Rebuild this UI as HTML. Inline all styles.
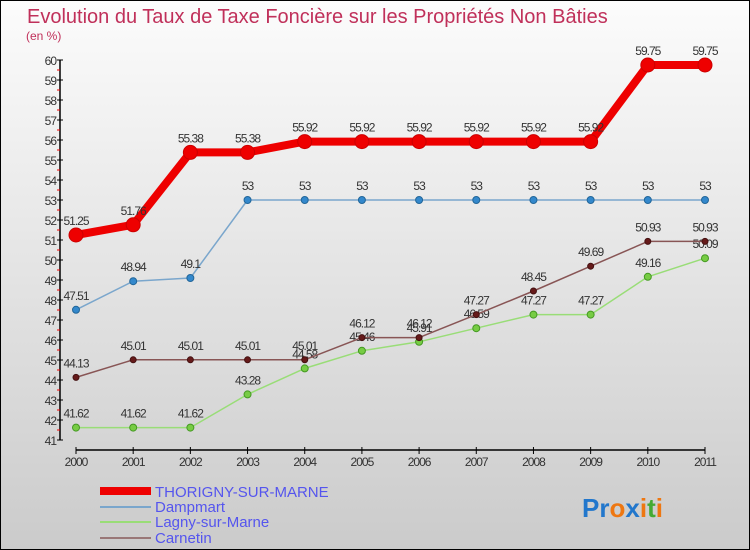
<!DOCTYPE html>
<html><head><meta charset="utf-8"><style>
body{margin:0}
svg{display:block;font-family:"Liberation Sans",sans-serif}
</style></head><body>
<svg id="c" width="750" height="550">
<defs><linearGradient id="bg" x1="0" y1="0" x2="0" y2="1"><stop offset="0" stop-color="#fcfcfc"/><stop offset="1" stop-color="#cbcbcb"/></linearGradient></defs>
<rect x="0.5" y="0.5" width="749" height="549" fill="url(#bg)" stroke="#000"/>
<text x="27" y="23" font-size="20" fill="#c0305a">Evolution du Taux de Taxe Foncière sur les Propriétés Non Bâties</text>
<text x="26" y="40" font-size="12" fill="#c0305a">(en %)</text>
<g id="axes"></g><g id="series"></g>
<g>
<line x1="100" y1="491" x2="151" y2="491" stroke="#e00" stroke-width="8"/>
<text x="155" y="497" font-size="15" fill="#5555ee">THORIGNY-SUR-MARNE</text>
<line x1="100" y1="507" x2="151" y2="507" stroke="#7aa6cc" stroke-width="2"/>
<text x="155" y="512" font-size="15" fill="#5555ee">Dampmart</text>
<line x1="100" y1="522" x2="151" y2="522" stroke="#99dd77" stroke-width="2"/>
<text x="155" y="527" font-size="15" fill="#5555ee">Lagny-sur-Marne</text>
<line x1="100" y1="538" x2="151" y2="538" stroke="#997777" stroke-width="2"/>
<text x="155" y="543" font-size="15" fill="#5555ee">Carnetin</text>
</g>
<text x="582" y="517" font-size="26" font-weight="bold"><tspan fill="#2277cc">Pr</tspan><tspan fill="#ee7711">o</tspan><tspan fill="#2277cc">x</tspan><tspan fill="#ee7711">i</tspan><tspan fill="#44aa33">t</tspan><tspan fill="#ee7711">i</tspan></text>
</svg>
<script>
const years=[2000,2001,2002,2003,2004,2005,2006,2007,2008,2009,2010,2011];
const thorigny=[51.25,51.76,55.38,55.38,55.92,55.92,55.92,55.92,55.92,55.92,59.75,59.75];
const dampmart=[47.51,48.94,49.1,53,53,53,53,53,53,53,53,53];
const lagny=[41.62,41.62,41.62,43.28,44.58,45.46,45.91,46.59,47.27,47.27,49.16,50.09];
const carnetin=[44.13,45.01,45.01,45.01,45.01,46.12,46.12,47.27,48.45,49.69,50.93,50.93];
const yTicks=[41,42,43,44,45,46,47,48,49,50,51,52,53,54,55,56,57,58,59,60];
const NS='http://www.w3.org/2000/svg';
const X=i=>76+i*(705-76)/11, Y=v=>60+(60-v)*20;
function mk(t,a,p){const e=document.createElementNS(NS,t);for(const k in a)e.setAttribute(k,a[k]);p.appendChild(e);return e;}
const ax=document.getElementById('axes');
const yl=mk('line',{x1:60,y1:60,x2:60,y2:440,stroke:'#000','stroke-width':1.5},ax);


yTicks.forEach(v=>{
 mk('line',{x1:57,x2:63,y1:Y(v),y2:Y(v),stroke:'#000'},ax);
 if(v<60)mk('line',{x1:57,x2:60,y1:Y(v+0.5),y2:Y(v+0.5),stroke:'#e00'},ax);
 const t=mk('text',{x:56,y:Y(v)+5,'text-anchor':'end','font-size':12,fill:'#333','letter-spacing':'-1'},ax);
 t.textContent=v;
 
 
});
const xl=mk('line',{x1:76,y1:450,x2:705,y2:450,stroke:'#000','stroke-width':1.5},ax);


years.forEach((y,i)=>{
 mk('line',{x1:X(i),x2:X(i),y1:447,y2:454,stroke:'#000'},ax);
 const t=mk('text',{x:X(i),y:466,'text-anchor':'middle','font-size':12,fill:'#333','letter-spacing':'-1'},ax);
 t.textContent=y;
 
 
});
const sg=document.getElementById('series');
function series(name,vals,col,w,r,dot,dotStroke){
 const g=mk('g',{},sg);
 
 
 mk('polyline',{points:vals.map((v,i)=>X(i)+','+Y(v)).join(' '),fill:'none',stroke:col,'stroke-width':w,'stroke-linejoin':'round'},g);
 vals.forEach((v,i)=>{
  const c=mk('circle',{cx:X(i),cy:Y(v),r:r,fill:dot,stroke:dotStroke},g);
  
  
  const t=mk('text',{x:X(i),y:Y(v)-10,'text-anchor':'middle','font-size':12,fill:'#333','letter-spacing':'-1'},g);
  t.textContent=v;
  
  
 });
}
series('lagny-series',lagny,'#99dd77',1.5,3.5,'#77cc44','#449922');
series('carnetin-series',carnetin,'#885555',1.5,3,'#661a1a','#441111');
series('dampmart-series',dampmart,'#7aa6cc',1.5,3.5,'#3388cc','#226699');
series('thorigny-series',thorigny,'#ee0000',8,7,'#ee0000','#cc0000');
</script>
</body></html>
